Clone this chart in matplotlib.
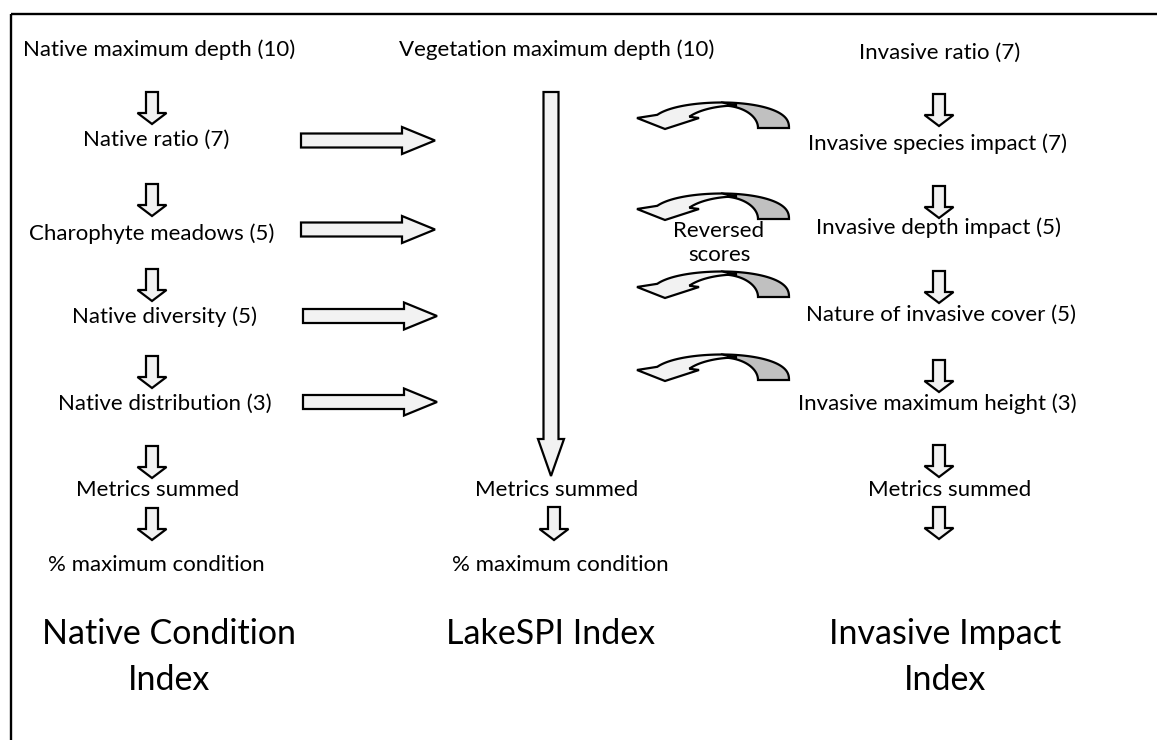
import matplotlib
matplotlib.use("Agg")
import matplotlib.pyplot as plt
import numpy as np
from matplotlib.patches import FancyArrow, Polygon, Rectangle

plt.rcParams['font.family'] = ['Lato', 'DejaVu Sans']

# ---------------- content ----------------
native_labels = ["Native maximum depth (10)", "Native ratio (7)", "Charophyte meadows (5)",
                 "Native diversity (5)", "Native distribution (3)", "Metrics summed",
                 "% maximum condition"]
lakespi_labels = ["Vegetation maximum depth (10)", "Metrics summed", "% maximum condition"]
invasive_labels = ["Invasive ratio (7)", "Invasive species impact (7)", "Invasive depth impact (5)",
                   "Nature of invasive cover (5)", "Invasive maximum height (3)", "Metrics summed"]
index_titles = [["Native Condition", "Index"], ["LakeSPI Index"], ["Invasive Impact", "Index"]]
reversed_label = ["Reversed", "scores"]

# ---------------- layout (pixels) ----------------
W, H = 1157, 740
native_x = [159, 156, 152, 164, 165, 158, 156]
native_y = [50, 140, 234, 317, 404, 490, 565]
lakespi_x = [557, 557, 560]
lakespi_y = [50, 490, 565]
invasive_x = [940, 937, 939, 941, 937, 950]
invasive_y = [53, 144, 228, 315, 404, 490]
title_x = [169, 551, 945]
title_y0 = 634
title_dy = 46

left_arrow_x = 152
left_arrow_top = [92, 184, 269, 356, 446, 508]
right_arrow_x = 939
right_arrow_top = [94, 186, 271, 360, 445, 507]
mid_arrow_x = 554
mid_arrow_top = [507]

horiz_arrow_y = [140.5, 229.5, 316, 402]
horiz_arrow_x0 = [301, 301, 303, 303]
curved_arrow_yb = [128, 219, 297, 380]

LIGHT = "#f2f2f2"
DARK = "#c0c0c0"
LW = 1.6
SMALL = 16
BIG = 24.5

fig = plt.figure(figsize=(W / 100, H / 100), dpi=100)
ax = fig.add_axes([0, 0, 1, 1])
ax.set_xlim(0, W)
ax.set_ylim(H, 0)
ax.axis('off')

# frame (right and bottom edges fall outside the picture)
ax.add_patch(Rectangle((10.5, 13.5), 3000, 3000, fill=False, ec="black", lw=1.7))


def down_arrow(x, y0, length=32):
    ax.add_patch(FancyArrow(x, y0, 0, length, width=12, head_width=29, head_length=11,
                            length_includes_head=True, fc=LIGHT, ec="black", lw=LW))


def right_arrow(x0, y, length=134):
    ax.add_patch(FancyArrow(x0, y, length, 0, width=14, head_width=27, head_length=33,
                            length_includes_head=True, fc=LIGHT, ec="black", lw=LW))


def curved_arrow(yb, cx=722):
    p = 0.8  # rounder outer arcs
    t = np.linspace(0, np.pi / 2, 60)
    outer = np.c_[cx + 67 * np.cos(t), yb - 25.5 * np.sin(t) ** p]
    inner = np.c_[cx + 36 * np.cos(t[::-1]), yb - 22.5 * np.sin(t[::-1])]
    ax.add_patch(Polygon(np.vstack([outer, inner]), closed=True, fc=DARK, ec="black",
                         lw=LW, joinstyle="miter"))
    t2 = np.linspace(np.pi / 2, np.radians(154), 60)
    out2 = np.c_[cx + 72 * np.cos(t2), yb - 25.5 * np.sin(t2) ** p]
    t3 = np.linspace(np.radians(150), np.pi / 2, 60)
    in2 = np.c_[cx + 15 + 55 * np.cos(t3), yb - 22.5 * np.sin(t3)]
    head = np.array([(cx - 85, yb - 10), (cx - 57, yb + 1), (cx - 23, yb - 10)])
    ax.add_patch(Polygon(np.vstack([out2, head, in2]), closed=True, fc=LIGHT, ec="black",
                         lw=LW, joinstyle="miter"))


# texts
for lab, x, y in zip(native_labels, native_x, native_y):
    ax.text(x, y, lab, ha="center", va="center", fontsize=SMALL)
for lab, x, y in zip(lakespi_labels, lakespi_x, lakespi_y):
    ax.text(x, y, lab, ha="center", va="center", fontsize=SMALL)
for lab, x, y in zip(invasive_labels, invasive_x, invasive_y):
    ax.text(x, y, lab, ha="center", va="center", fontsize=SMALL)
for lines, x in zip(index_titles, title_x):
    for i, line in enumerate(lines):
        ax.text(x, title_y0 + i * title_dy, line, ha="center", va="center", fontsize=BIG)
for i, line in enumerate(reversed_label):
    ax.text(719, 231 + i * 24, line, ha="center", va="center", fontsize=SMALL)

# arrows
for y0 in left_arrow_top:
    down_arrow(left_arrow_x, y0)
for y0 in right_arrow_top:
    down_arrow(right_arrow_x, y0)
for y0 in mid_arrow_top:
    down_arrow(mid_arrow_x, y0, length=33)

# long LakeSPI arrow
ax.add_patch(FancyArrow(551, 92, 0, 384, width=15, head_width=26, head_length=37,
                        length_includes_head=True, fc=LIGHT, ec="black", lw=LW))

for x0, y in zip(horiz_arrow_x0, horiz_arrow_y):
    right_arrow(x0, y)

for yb in curved_arrow_yb:
    curved_arrow(yb)

fig.savefig("out.png", dpi=100, facecolor="white")
